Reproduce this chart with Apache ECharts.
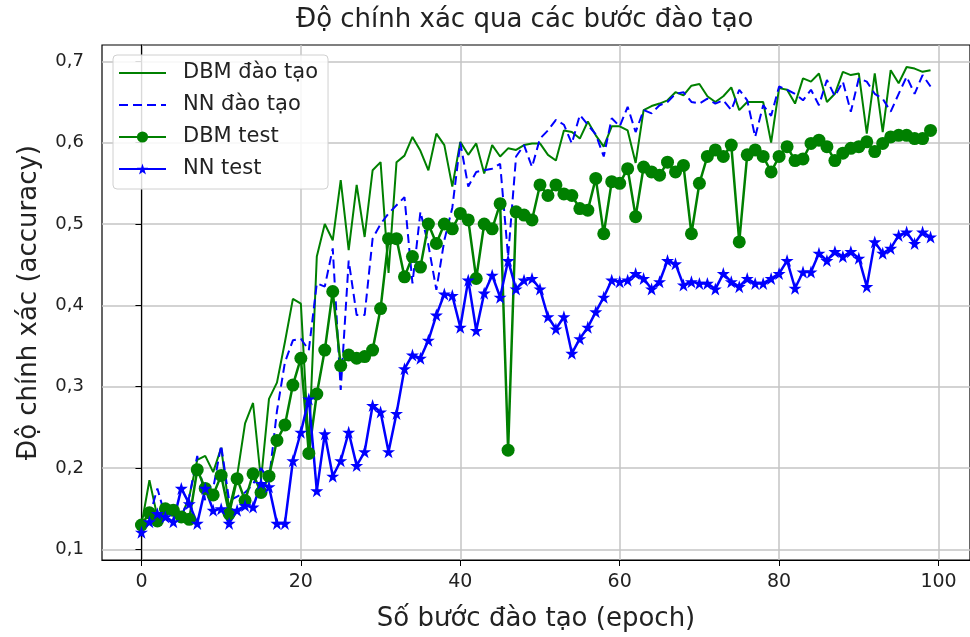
<!DOCTYPE html>
<html>
<head>
<meta charset="utf-8">
<script src="https://cdn.jsdelivr.net/npm/echarts@6/dist/echarts.min.js"></script>
<style>
  html, body { margin: 0; padding: 0; background: #fff; }
  #chart { width: 970px; height: 637px; }
</style>
</head>
<body>
<div id="chart"></div>
<script>
// accuracy per epoch
var dbmTrain = [
  0.13, 0.185, 0.14, 0.15, 0.145, 0.14, 0.165, 0.21, 0.215, 0.195,
  0.225, 0.15, 0.19, 0.255, 0.28, 0.185, 0.285, 0.305, 0.355, 0.408,
  0.402, 0.225, 0.46, 0.50, 0.48, 0.554, 0.468, 0.548, 0.484, 0.566,
  0.576, 0.44, 0.576, 0.584, 0.607, 0.59, 0.566, 0.611, 0.597, 0.546,
  0.601, 0.585, 0.599, 0.562, 0.597, 0.583, 0.593, 0.591, 0.597, 0.599,
  0.599, 0.585, 0.578, 0.615, 0.613, 0.605, 0.626, 0.609, 0.595, 0.62,
  0.62, 0.615, 0.575, 0.64, 0.645, 0.648, 0.652, 0.662, 0.658, 0.67,
  0.672, 0.657, 0.65, 0.657, 0.668, 0.64, 0.65, 0.65, 0.65, 0.6,
  0.667, 0.665, 0.648, 0.679, 0.675, 0.685, 0.65, 0.66, 0.687, 0.683,
  0.685, 0.611, 0.685, 0.613, 0.689, 0.673, 0.693, 0.691, 0.687, 0.689
];
var nnTrain = [
  0.125, 0.14, 0.175, 0.14, 0.15, 0.14, 0.165, 0.215, 0.16, 0.175,
  0.228, 0.16, 0.165, 0.17, 0.18, 0.2, 0.185, 0.27, 0.33, 0.357,
  0.359, 0.345, 0.427, 0.423, 0.47, 0.296, 0.455, 0.388, 0.388, 0.482,
  0.50, 0.513, 0.523, 0.533, 0.427, 0.515, 0.474, 0.419, 0.48, 0.52,
  0.6, 0.546, 0.564, 0.566, 0.568, 0.574, 0.46, 0.583, 0.597, 0.57,
  0.605, 0.615, 0.628, 0.622, 0.599, 0.634, 0.622, 0.61, 0.583, 0.63,
  0.62, 0.644, 0.613, 0.64, 0.636, 0.646, 0.65, 0.66, 0.662, 0.65,
  0.648, 0.654, 0.648, 0.652, 0.64, 0.665, 0.652, 0.607, 0.646, 0.633,
  0.669, 0.665, 0.66, 0.652, 0.665, 0.646, 0.677, 0.657, 0.675, 0.638,
  0.679, 0.675, 0.66, 0.654, 0.638, 0.66, 0.681, 0.66, 0.683, 0.669
];
var dbmTest = [
  0.13, 0.145, 0.135, 0.15, 0.148, 0.14, 0.137, 0.198, 0.175, 0.167,
  0.191, 0.144, 0.187, 0.16, 0.193, 0.17, 0.19, 0.234, 0.253, 0.302,
  0.335, 0.218, 0.291, 0.345, 0.417, 0.326, 0.339, 0.335, 0.337, 0.345,
  0.396, 0.482, 0.482, 0.435, 0.46, 0.447, 0.50, 0.476, 0.50, 0.494,
  0.513, 0.505, 0.433, 0.50, 0.494, 0.525, 0.222, 0.515, 0.511, 0.505,
  0.548, 0.535, 0.548, 0.537, 0.535, 0.519, 0.517, 0.556, 0.488, 0.552,
  0.55, 0.568, 0.509, 0.57, 0.564, 0.56, 0.576, 0.564, 0.572, 0.488,
  0.55, 0.583, 0.591, 0.583, 0.597, 0.478, 0.585, 0.591, 0.583, 0.564,
  0.583, 0.595, 0.578, 0.58, 0.599, 0.603, 0.595, 0.578, 0.587, 0.593,
  0.595, 0.601, 0.589, 0.599, 0.607, 0.609, 0.609, 0.605, 0.605, 0.615
];
var nnTest = [
  0.121, 0.134, 0.144, 0.14, 0.134, 0.175, 0.156, 0.132, 0.175, 0.148,
  0.15, 0.132, 0.148, 0.154, 0.152, 0.181, 0.177, 0.132, 0.132, 0.209,
  0.244, 0.285, 0.172, 0.242, 0.19, 0.209, 0.244, 0.203, 0.22, 0.277,
  0.269, 0.22, 0.267, 0.322, 0.339, 0.335, 0.357, 0.388, 0.414, 0.412,
  0.373, 0.431, 0.369, 0.415, 0.437, 0.41, 0.455, 0.42, 0.431, 0.433,
  0.42, 0.386, 0.371, 0.386, 0.341, 0.359, 0.373, 0.392, 0.41, 0.431,
  0.429, 0.431, 0.439, 0.433, 0.42, 0.429, 0.455, 0.451, 0.425, 0.429,
  0.427, 0.427, 0.42, 0.439, 0.429, 0.423, 0.433, 0.427, 0.427, 0.433,
  0.439, 0.455, 0.421, 0.441, 0.441, 0.464, 0.455, 0.466, 0.46, 0.466,
  0.458, 0.423, 0.478, 0.464, 0.47, 0.486, 0.49, 0.476, 0.49, 0.484
];
var seriesNames = ['DBM đào tạo', 'NN đào tạo', 'DBM test', 'NN test'];
var xTicks = [0, 20, 40, 60, 80, 100];
var yTicks = [0.1, 0.2, 0.3, 0.4, 0.5, 0.6, 0.7];

var GREEN = '#008000';
var BLUE = '#0000ff';
var FONT = 'DejaVu Sans';
var STAR = 'path://M0,-1L0.2245,-0.309L0.951,-0.309L0.363,0.118L0.588,0.809L0,0.382L-0.588,0.809L-0.363,0.118L-0.951,-0.309L-0.2245,-0.309Z';

function pairs(arr) {
    var out = [];
    for (var i = 0; i < arr.length; i++) out.push([i, arr[i]]);
    return out;
}

var option = {
    animation: false,
    backgroundColor: '#fff',
    title: {
        text: 'Độ chính xác qua các bước đào tạo',
        left: 291,
        top: 2,
        textStyle: { fontFamily: FONT, fontSize: 26, fontWeight: 'normal', color: '#222' }
    },
    legend: {
        orient: 'vertical',
        left: 113,
        top: 55,
        padding: [6, 10, 8, 5],
        itemWidth: 47,
        itemHeight: 14,
        itemGap: 8,
        backgroundColor: 'rgba(255,255,255,0.85)',
        borderColor: '#d0d0d0',
        borderWidth: 1,
        borderRadius: 4,
        data: [
            // training curves have no marker, so hide the legend marker
            { name: seriesNames[0], itemStyle: { opacity: 0 } },
            { name: seriesNames[1], itemStyle: { opacity: 0 } },
            { name: seriesNames[2] },
            { name: seriesNames[3] }
        ],
        textStyle: { fontFamily: FONT, fontSize: 21, color: '#222', lineHeight: 24, padding: [0, 0, 0, 12] }
    },
    grid: {
        left: 102, top: 45, width: 873, height: 515,
        show: true, borderColor: '#000', borderWidth: 1.2
    },
    xAxis: {
        type: 'value',
        min: -4.95, max: 103.95,
        name: 'Số bước đào tạo (epoch)',
        nameLocation: 'middle',
        nameGap: 46,
        nameTextStyle: { fontFamily: FONT, fontSize: 26, color: '#222' },
        axisLine: { show: true, lineStyle: { color: '#000', width: 1.2 } },
        axisTick: { show: true, length: 6, customValues: xTicks, lineStyle: { color: '#000' } },
        axisLabel: { customValues: xTicks, margin: 13, fontFamily: FONT, fontSize: 19, color: '#222' },
        splitLine: { show: true, lineStyle: { color: '#c4c4c4', width: 1.5 } }
    },
    yAxis: {
        type: 'value',
        min: 0.087, max: 0.72,
        name: 'Độ chính xác (accuracy)',
        nameLocation: 'middle',
        nameGap: 60,
        nameTextStyle: { fontFamily: FONT, fontSize: 26, color: '#222' },
        axisLine: { show: true, lineStyle: { color: '#000', width: 1.2 } },
        axisTick: { show: true, length: 6, customValues: yTicks, lineStyle: { color: '#000' } },
        axisLabel: {
            customValues: yTicks, margin: 18, fontFamily: FONT, fontSize: 18, color: '#222',
            formatter: function (v) { return v.toFixed(1).replace('.', ','); }
        },
        splitLine: { show: true, lineStyle: { color: '#c4c4c4', width: 1.5 } }
    },
    series: [
        {
            name: seriesNames[0], type: 'line', data: pairs(dbmTrain),
            showSymbol: false, symbol: 'none',
            lineStyle: { color: GREEN, width: 2 }, itemStyle: { color: GREEN }
        },
        {
            name: seriesNames[1], type: 'line', data: pairs(nnTrain),
            showSymbol: false, symbol: 'none',
            lineStyle: { color: BLUE, width: 2, type: [9, 5] }, itemStyle: { color: BLUE }
        },
        {
            name: seriesNames[2], type: 'line', data: pairs(dbmTest),
            symbol: 'circle', symbolSize: 13,
            lineStyle: { color: GREEN, width: 2.5 }, itemStyle: { color: GREEN }
        },
        {
            name: seriesNames[3], type: 'line', data: pairs(nnTest),
            symbol: STAR, symbolSize: 13,
            lineStyle: { color: BLUE, width: 2.5 }, itemStyle: { color: BLUE }
        }
    ]
};

var chart = echarts.init(document.getElementById('chart'));
chart.setOption(option);
</script>
</body>
</html>
